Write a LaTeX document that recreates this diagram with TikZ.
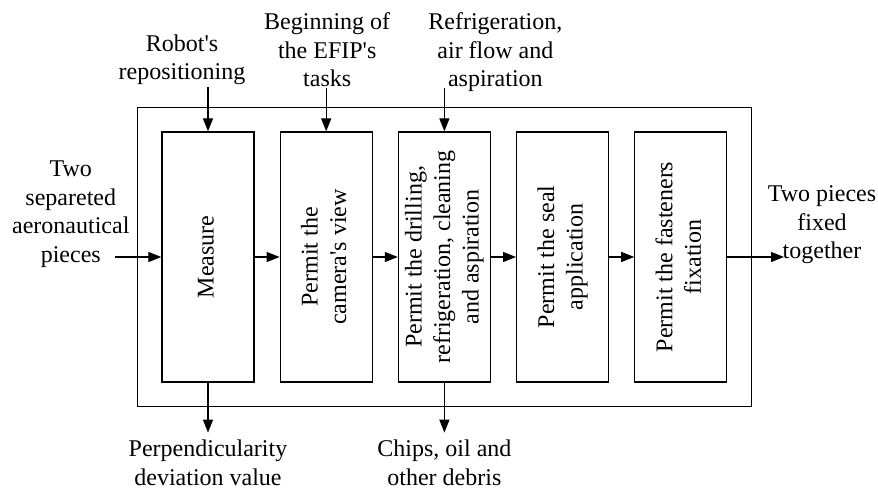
\documentclass[tikz,border=0pt]{standalone}
\usepackage{fontspec}
\setmainfont{Liberation Serif}
\usepackage{tikz}
\usetikzlibrary{arrows.meta, positioning, calc, fit}

\newcommand{\uptext}[1]{\rotatebox{90}{\begin{tabular}{@{}c@{}}#1\end{tabular}}}
\newcommand{\apo}{\textquotesingle}

\begin{document}
\begin{tikzpicture}[node distance=12.5pt, >={Triangle[length=6.5pt, width=5pt]}, semithick, font=\fontsize{12}{14.25}\selectfont]
    \tikzstyle{block} = [rectangle, draw, minimum width=46pt, minimum height=125pt, inner sep=0pt]
    \tikzstyle{lbl} = [align=center, inner sep=0pt]

    \useasboundingbox (-104pt,-117pt) rectangle (335pt,128.5pt);

    \node [block] (measure) at (0,0) {\uptext{Measure}};
    \node [block, right=of measure] (camera) {\uptext{Permit the\\camera\apo s view}};
    \node [block, right=of camera] (drill) {\uptext{Permit the drilling,\\refrigeration, cleaning\\and aspiration}};
    \node [block, right=of drill] (seal) {\uptext{Permit the seal\\application}};
    \node [block, right=of seal] (fasten) {\uptext{Permit the fasteners\\fixation}};
    \node [draw, fit=(measure)(fasten), inner sep=12pt] (sys) {};

    % Flow between the functions
    \draw [->] (measure) -- (camera);
    \draw [->] (camera) -- (drill);
    \draw [->] (drill) -- (seal);
    \draw [->] (seal) -- (fasten);

    % Input and output
    \coordinate [left=11pt of sys.west] (in);
    \coordinate [right=16pt of sys.east] (out);
    \draw [->] (in) -- (measure);
    \draw [->] (fasten) -- (out);
    \node [lbl] (inlbl) at ($(in)+(-22pt,21.5pt)$) {Two\\separeted\\aeronautical\\pieces};
    \node [lbl] (outlbl) at ($(out)+(19pt,16pt)$) {Two pieces\\fixed\\together};

    % Controls from above
    \coordinate [above=22pt of measure.north] (rtop);
    \coordinate [above=21.5pt of camera.north] (ctop);
    \coordinate [above=21.5pt of drill.north] (dtop);
    \draw [->] (rtop) -- (measure);
    \draw [->] (ctop) -- (camera);
    \draw [->] (dtop) -- (drill);
    \node [lbl, above=1pt of rtop, xshift=-13pt] (robot) {Robot\apo s\\repositioning};
    \node [lbl, above=0.5pt of ctop, xshift=0.5pt] (begin) {Beginning of\\the EFIP\apo s\\tasks};
    \node [lbl, above=-2pt of dtop, xshift=25.5pt] (cool) {Refrigeration,\\air flow and\\aspiration};

    % Outputs below
    \coordinate [below=25pt of measure.south] (mbot);
    \coordinate [below=25pt of drill.south] (dbot);
    \draw [->] (measure) -- (mbot);
    \draw [->] (drill) -- (dbot);
    \node [lbl, below=3.5pt of mbot] (dev) {Perpendicularity\\deviation value};
    \node [lbl, below=3.5pt of dbot] (debris) {Chips, oil and\\other debris};
\end{tikzpicture}
\end{document}
